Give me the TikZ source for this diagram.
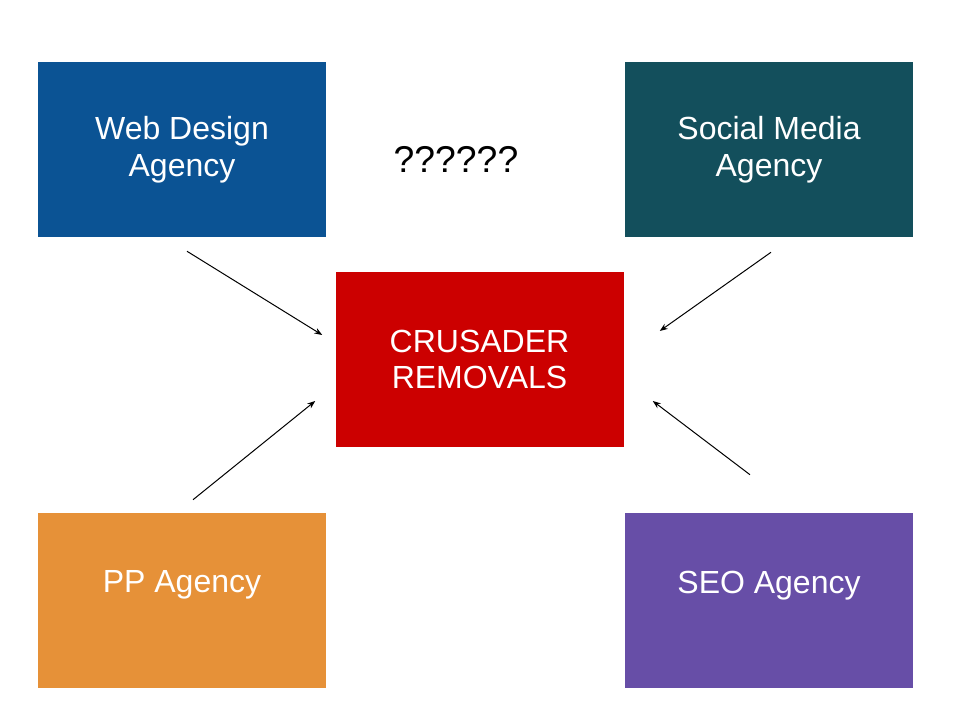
\documentclass[tikz,border=0pt]{standalone}
\usepackage{fontspec}
\setmainfont{Liberation Sans}
\usetikzlibrary{positioning, calc, arrows.meta}

\definecolor{webblue}{HTML}{0B5394}
\definecolor{socialteal}{HTML}{134F5C}
\definecolor{crusaderred}{HTML}{CC0000}
\definecolor{pporange}{HTML}{E69138}
\definecolor{seopurple}{HTML}{674EA7}

\begin{document}
\begin{tikzpicture}[x=0.75pt, y=-0.75pt,
	agency/.style={minimum width=216pt, minimum height=131.25pt, text=white, align=center, inner sep=0pt,
		font=\fontsize{24}{27.5}\selectfont},
	oneline/.style={text depth=28pt},
	link/.style={-{Stealth[length=6pt, width=4.5pt]}, line width=0.75pt}]
	\useasboundingbox (0,0) rectangle (960,720);
	\node at (182,149.5) [agency, fill=webblue] (web) {Web Design\\Agency};
	\node at (769,149.5) [agency, fill=socialteal] (social) {Social Media\\Agency};
	\node at (479.5,359.5) [agency, fill=crusaderred] (crusader) {CRUSADER\\REMOVALS};
	\node at (182,600.5) [agency, oneline, fill=pporange] (pp) {PP Agency};
	\node at (769,600.5) [agency, oneline, fill=seopurple] (seo) {SEO Agency};
	\node at (456,159) [font=\fontsize{28}{32}\selectfont] (unknown) {??????};
	% Pfeilenden frei, neben den Kaesten
	\coordinate (web-out) at ([shift={(5,14)}]web.south);
	\coordinate (web-in) at ([shift={(-13,-24.5)}]crusader.west);
	\coordinate (social-out) at ([shift={(2,15)}]social.south);
	\coordinate (social-in) at ([shift={(36,-28.5)}]crusader.east);
	\coordinate (pp-out) at ([shift={(11,-13)}]pp.north);
	\coordinate (pp-in) at ([shift={(-20,41.5)}]crusader.west);
	\coordinate (seo-out) at ([shift={(-19,-38)}]seo.north);
	\coordinate (seo-in) at ([shift={(29,41.5)}]crusader.east);
	\draw [link] (web-out) -- (web-in);
	\draw [link] (social-out) -- (social-in);
	\draw [link] (pp-out) -- (pp-in);
	\draw [link] (seo-out) -- (seo-in);
\end{tikzpicture}
\end{document}
